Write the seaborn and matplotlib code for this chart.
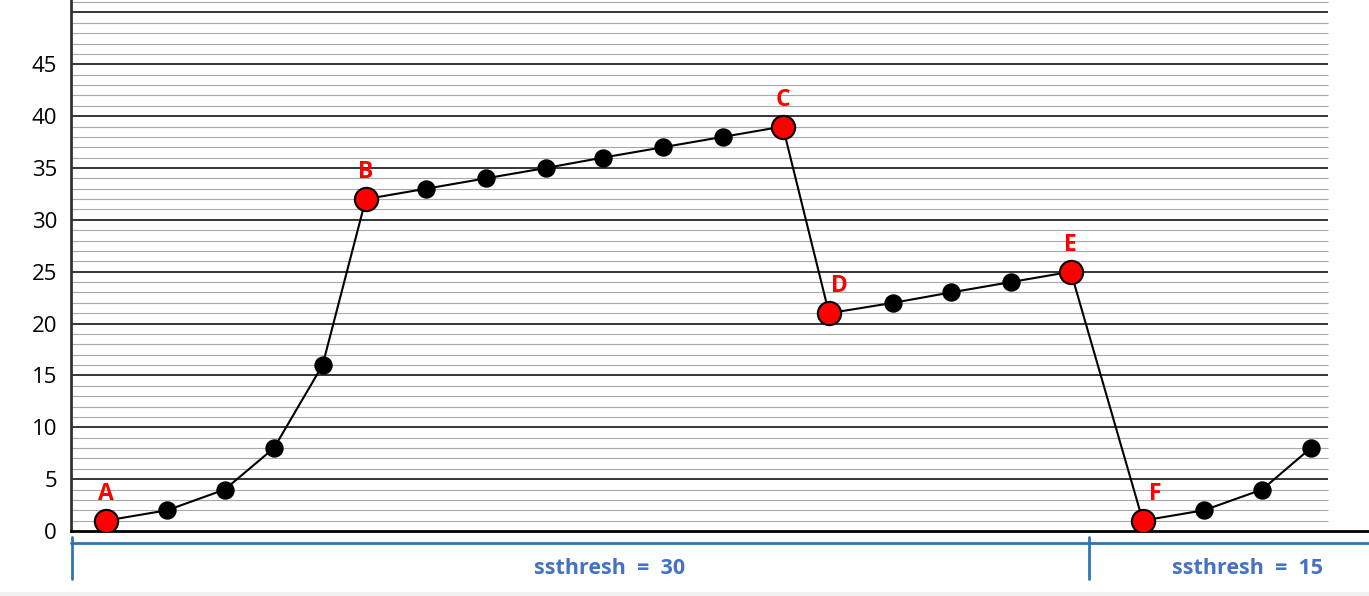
import matplotlib
matplotlib.use('Agg')
import matplotlib.pyplot as plt
import seaborn as sns
import pandas as pd
from matplotlib.patches import Rectangle

# dados: janela de congestionamento por rodada
rodada = [1.0, 2.02, 2.98, 3.8, 4.61, 5.33, 6.33, 7.33, 8.33, 9.28, 10.28,
          11.28, 12.28, 13.05, 14.12, 15.08, 16.08, 17.08, 18.28, 19.3,
          20.27, 21.08]
cwnd = [1, 2, 4, 8, 16, 32, 33, 34, 35, 36, 37, 38, 39, 21, 22, 23, 24, 25,
        1, 2, 4, 8]
pontos = ['A', '', '', '', '', 'B', '', '', '', '', '', '', 'C', 'D', '', '',
          '', 'E', 'F', '', '', '']
y_ticks = [0, 5, 10, 15, 20, 25, 30, 35, 40, 45]
faixas = ['ssthresh  =  30', 'ssthresh  =  15']

df = pd.DataFrame({'rodada': rodada, 'cwnd': cwnd, 'ponto': pontos})
marcados = df[df['ponto'] != '']
normais = df[df['ponto'] == '']

sns.set_style('white')
plt.rcParams['font.family'] = ['Open Sans', 'DejaVu Sans']

fig = plt.figure(figsize=(13.69, 5.96), dpi=100)
ax = fig.add_axes([71 / 1369, 65 / 596, 1 - 71 / 1369, 531 / 596])

x_esq, x_dir, x_grade = 0.417, 22.05, 21.37
ax.set_xlim(x_esq, x_dir)
ax.set_ylim(0, 51.2)

# linhas de grade (menores cinza, maiores pretas)
for v in range(1, 52):
    if v % 5 == 0:
        ax.hlines(v, x_esq, x_grade, color='black', lw=1.1, zorder=1)
    else:
        ax.hlines(v, x_esq, x_grade, color='#a8a8a8', lw=0.8, zorder=1)

sns.lineplot(data=df, x='rodada', y='cwnd', color='black', lw=1.5,
             sort=False, ax=ax, zorder=3)
sns.scatterplot(data=normais, x='rodada', y='cwnd', color='black', s=150,
                edgecolor='black', ax=ax, zorder=4)
sns.scatterplot(data=marcados, x='rodada', y='cwnd', color='red', s=280,
                edgecolor='black', linewidth=1.5, ax=ax, zorder=5)

desloc = {'A': 0, 'B': 0, 'C': 0, 'D': 10, 'E': 0, 'F': 12}
for _, r in marcados.iterrows():
    ax.annotate(r['ponto'], (r['rodada'], r['cwnd']),
                xytext=(desloc[r['ponto']], 27), textcoords='offset pixels',
                ha='center', va='center', color='red', fontsize=16.5,
                fontweight='bold', zorder=6)

ax.set_yticks(y_ticks)
ax.set_xticks([])
ax.tick_params(axis='y', length=0, pad=10, labelsize=16, labelcolor='black')
ax.set_xlabel('')
ax.set_ylabel('')
for s in ['top', 'right']:
    ax.spines[s].set_visible(False)
ax.spines['left'].set_linewidth(2)
ax.spines['left'].set_color('#333333')
ax.spines['bottom'].set_linewidth(2)
ax.spines['bottom'].set_color('black')

# colchete azul com os valores de ssthresh
tr = ax.get_xaxis_transform()
azul = '#2e75b6'
ax.plot([x_esq, x_dir], [-0.0226, -0.0226], color=azul, lw=2,
        transform=tr, clip_on=False)
for xv in [x_esq + 0.02, 17.38]:
    ax.plot([xv, xv], [-0.0113, -0.0904], color=azul, lw=2,
            transform=tr, clip_on=False)
ax.text(9.4, -0.0697, faixas[0], transform=tr, ha='center', va='center',
        color='#4472c4', fontsize=15.5, fontweight='bold')
ax.text(20.02, -0.0697, faixas[1], transform=tr, ha='center', va='center',
        color='#4472c4', fontsize=15.5, fontweight='bold')

fig.patches.append(Rectangle((0, 0), 1, 4 / 596, transform=fig.transFigure,
                             color='#f0f0f0', zorder=0))

fig.savefig('out.png', dpi=100)
